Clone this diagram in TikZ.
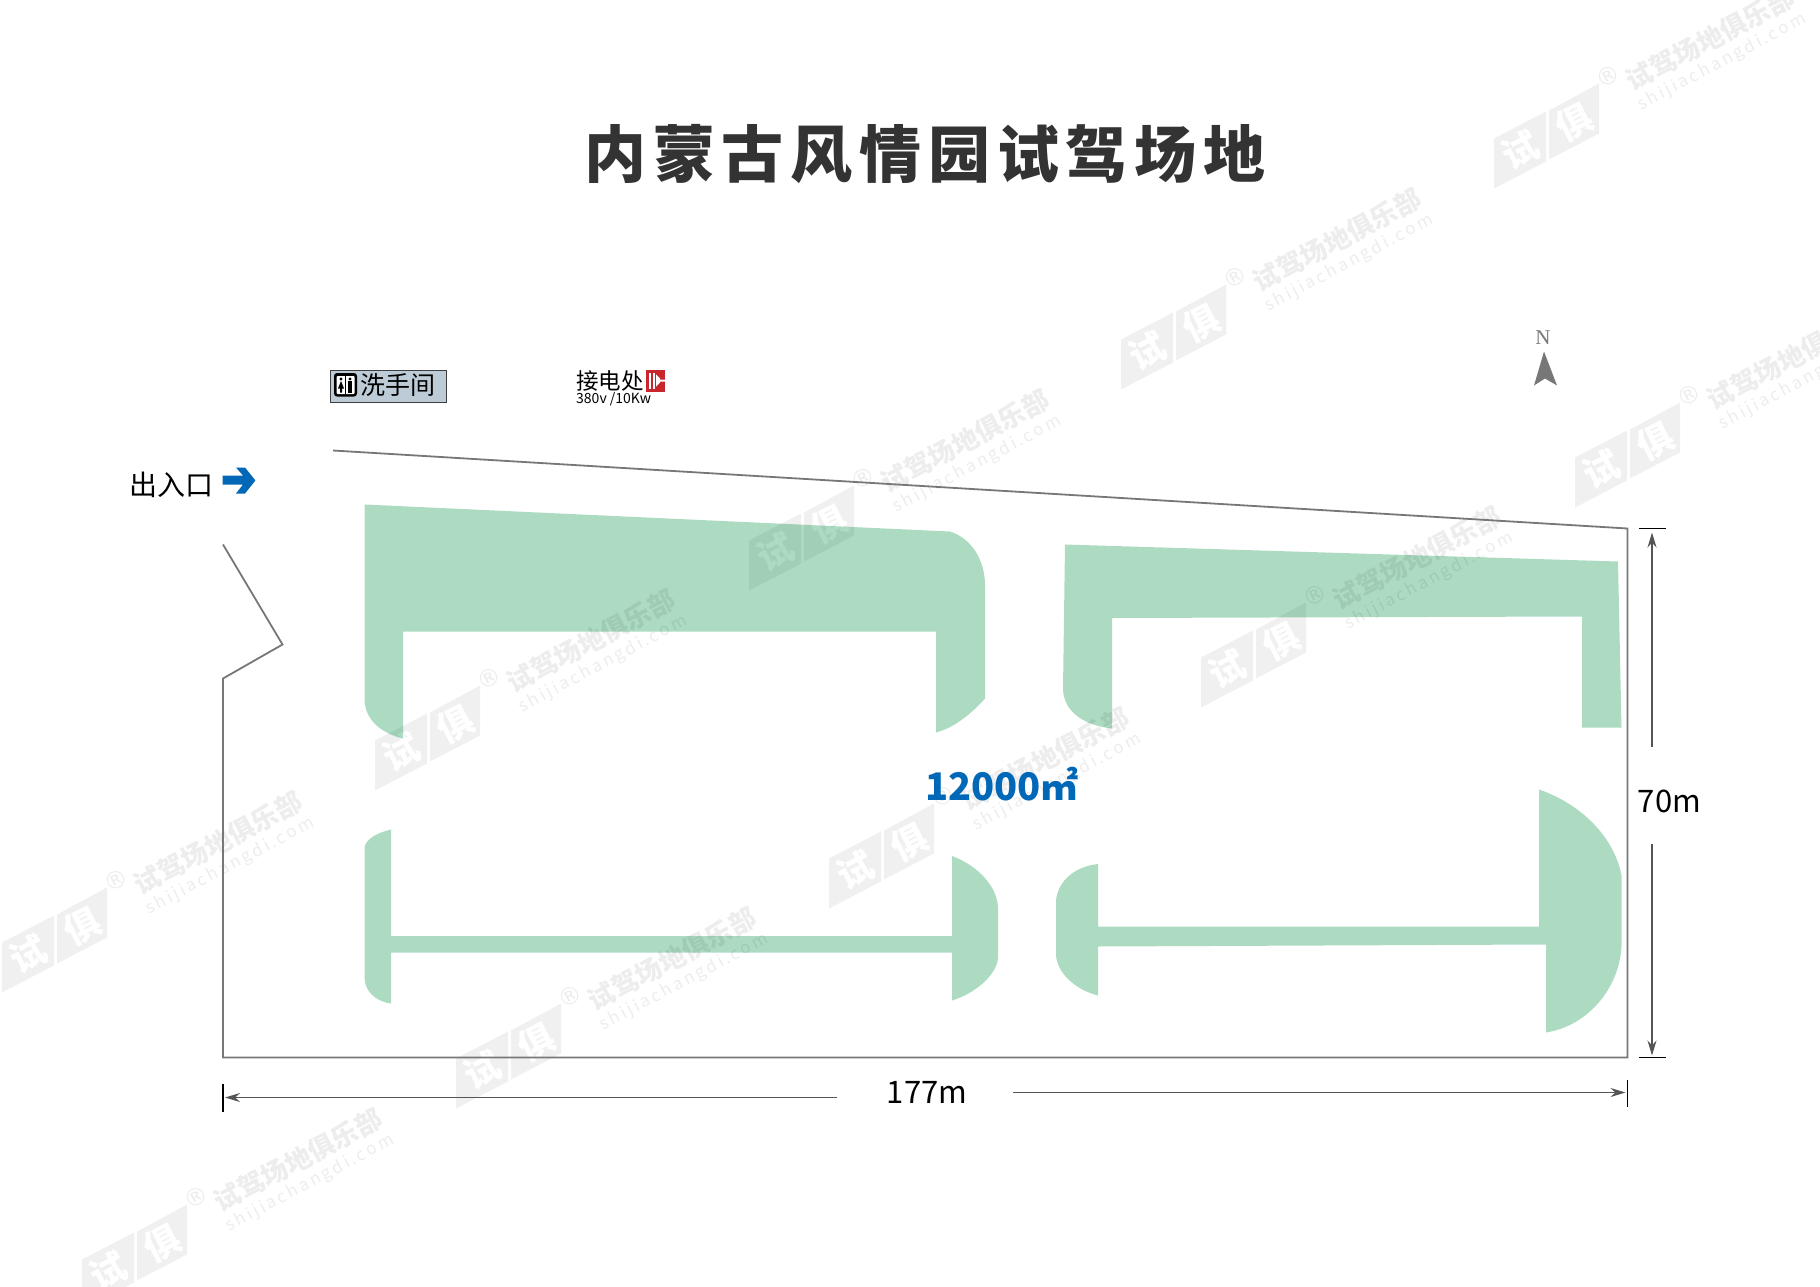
\documentclass[tikz,border=0pt]{standalone}
\usepackage{fontspec}
\usepackage{xcolor}
\usepackage{tikz}
\usetikzlibrary{arrows.meta, calc}
\setmainfont{Noto Sans CJK SC}
\newfontfamily\titlefont[LetterSpace=11]{Noto Sans CJK SC}
\newfontfamily\urlfont[LetterSpace=16]{Noto Sans CJK SC}
\newfontfamily\nfont{Liberation Serif}
\newfontfamily\regfont{DejaVu Sans}
\newcommand{\fsz}[1]{\fontsize{#1}{#1}\selectfont}
\definecolor{zonegreen}{HTML}{ACDBC2}
\definecolor{linegray}{HTML}{777777}
\definecolor{dimgray}{HTML}{555555}
\definecolor{markgray}{HTML}{F0F0F0}
\definecolor{marktext}{HTML}{EDEDED}
\definecolor{labelblue}{HTML}{0068B7}
\definecolor{washblue}{HTML}{BCCBD5}
\definecolor{powerred}{HTML}{C8252C}
\tikzset{
  zone/.style={fill=zonegreen, draw=none, blend mode=multiply},
  outline/.style={draw=linegray, line width=1.8pt},
  dimline/.style={draw=dimgray, line width=1.6pt, -{Stealth[length=15pt,width=9pt]}},
  dimtick/.style={draw=black, line width=1.5pt},
  marktxt/.style={text=marktext, rotate=28, anchor=west, inner sep=0pt},
  markglyph/.style={text=white, rotate=27, font=\bfseries\fsz{36}, inner sep=0pt},
}

\begin{document}
\begin{tikzpicture}[x=1pt,y=-1pt]
  \path[use as bounding box] (0,-0.5) rectangle (1820,1286.5);
  \clip (0,-0.5) rectangle (1820,1286.5);

  % watermark
  \foreach \wx/\wy in {1494/188, 1121/389, 749/590, 375/790, 2/992,
                       1575/507, 1201/707, 829/908, 456/1108, 82/1309} {
    \begin{scope}[shift={(\wx,\wy)}]
      \fill[markgray] (0,0) -- (0,-50) -- (52,-77) -- (52,-27) -- cycle;
      \fill[markgray] (55,-29) -- (55,-78) -- (105,-105) -- (105,-55) -- cycle;
      \node[markglyph] at (26,-38) {试};
      \node[markglyph] at (80,-66) {俱};
      \node[marktxt, anchor=center, font=\regfont\fsz{24}] at (114,-112) {®};
      \node[marktxt, font=\bfseries\fsz{26.5}] at (134,-106) {试驾场地俱乐部};
      \node[marktxt, font=\urlfont\fsz{17}] at (145,-82) {shijiachangdi.com};
    \end{scope}
  }

  % title
  \node[font=\titlefont\bfseries\fsz{62}, text=black!80] (title) at (925,154) {内蒙古风情园试驾场地};

  % site outline
  \draw[outline] (333,450) -- (1627.5,528) -- (1627.5,1057) -- (223,1057)
    -- (223,678) -- (282.5,644) -- (223,544);

  % green zones
  \path[zone] (364.5,504) -- (950,531) .. controls (972,538) and (985,560) .. (985,585)
    -- (985,698) .. controls (970,715) and (952,728) .. (936,732) -- (936,631) -- (403,631)
    -- (403,738) .. controls (382,733) and (365,720) .. (364.5,699) -- cycle;
  \path[zone] (1065,544) -- (1618,561) -- (1621.5,727) -- (1582,727) -- (1582,616)
    -- (1112,617.5) -- (1112,728) .. controls (1085,725) and (1064,712) .. (1063,689) -- cycle;
  \path[zone] (391,829) -- (391,935.5) -- (952,935.5) -- (952,855.5)
    .. controls (980,866) and (998,888) .. (998,908) -- (998,958)
    .. controls (996,975) and (975,993) .. (952,1000) -- (952,952) -- (391,952) -- (391,1003)
    .. controls (375,1001) and (365,990) .. (364.5,978) -- (364.5,847)
    .. controls (366,838) and (378,832) .. (391,829) -- cycle;
  \path[zone] (1098,863.5) .. controls (1075,866) and (1058,880) .. (1056,900) -- (1056,955)
    .. controls (1058,975) and (1078,990) .. (1098,995) -- (1098,946) -- (1546,944) -- (1546,1032)
    .. controls (1590,1025) and (1620,985) .. (1621.5,945) -- (1621.5,875)
    .. controls (1615,840) and (1585,805) .. (1539,789) -- (1539,926) -- (1098,926) -- cycle;

  % labels
  \node[font=\fsz{28}, text=black] (gate) at (171,484) {出入口};
  \fill[labelblue] (222.6,475) -- (243,475) -- (236,467) -- (245,467) -- (255.4,480)
    -- (245,493) -- (236,493) -- (243,484) -- (222.6,484) -- cycle;
  \node[font=\bfseries\fsz{38}, text=labelblue] (area) at (1002,784) {12000㎡};

  % washroom sign
  \node[draw=black!75, line width=1pt, fill=washblue, minimum width=116pt,
    minimum height=32pt, inner sep=0pt] (wash) at (388.5,385.5) {};
  \node[font=\fsz{25}, inner sep=0pt] (washtxt) at (398,385) {洗手间};
  \fill[black, rounded corners=3pt] (334,372.5) rectangle (357,396);
  \fill[white, rounded corners=1pt] (336.5,375.5) rectangle (354.5,393.5);
  \draw[black, line width=0.7pt] (345.5,375.5) -- (345.5,393.5);
  \fill[black] (341,378.5) circle (1.6pt) (350,378.5) circle (1.6pt);
  \fill[black] (341,380.5) -- (344,388) -- (342,388) -- (342,392) -- (340,392) -- (340,388)
    -- (338,388) -- cycle;
  \fill[black] (347.8,380.5) rectangle (352.2,392);

  % power point
  \node[font=\fsz{22.5}, inner sep=0pt] (power) at (610,380) {接电处};
  \node[font=\fsz{14}, anchor=west, inner sep=0pt] (volt) at (576,399) {380v /10Kw};
  \fill[powerred] (646,369) rectangle (665,391);
  \fill[white] (649,372) rectangle (651,388);
  \fill[white] (652.5,372) rectangle (654.5,388);
  \fill[white] (656,374) -- (660,378) -- (660,379) -- (665,379) -- (665,381) -- (660,381)
    -- (660,382) -- (656,386) -- cycle;

  % north arrow
  \node[font=\nfont\fsz{21}, text=linegray, inner sep=0pt] (north) at (1543,337) {N};
  \fill[linegray] (1544,351) -- (1557,385) -- (1545,378) -- (1534,385) -- cycle;

  % dimensions
  \node[font=\fsz{31}, text=black] (width) at (927,1092) {177m};
  \node[font=\fsz{31}, text=black] (height) at (1669.5,801) {70m};
  \coordinate (wl) at (223,1097);
  \coordinate (wla) at (837,1097);
  \coordinate (wr) at (1627.5,1092);
  \coordinate (wra) at (1013,1092);
  \coordinate (ht) at (1652,528);
  \coordinate (hta) at (1652,746);
  \coordinate (hb) at (1652,1057);
  \coordinate (hba) at (1652,843);
  \path[dimline] (wla) -- ($(wl)+(2,0)$);
  \path[dimline] (wra) -- ($(wr)+(-2,0)$);
  \path[dimline] (hta) -- ($(ht)+(0,4)$);
  \path[dimline] (hba) -- ($(hb)+(0,-2)$);
  \draw[dimtick] ($(wl)+(0,-14)$) -- ($(wl)+(0,14)$);
  \draw[dimtick] ($(wr)+(0,-13)$) -- ($(wr)+(0,14)$);
  \draw[dimtick] ($(ht)+(-13,0)$) -- ($(ht)+(14,0)$);
  \draw[dimtick] ($(hb)+(-13,0)$) -- ($(hb)+(14,0)$);
\end{tikzpicture}
\end{document}
